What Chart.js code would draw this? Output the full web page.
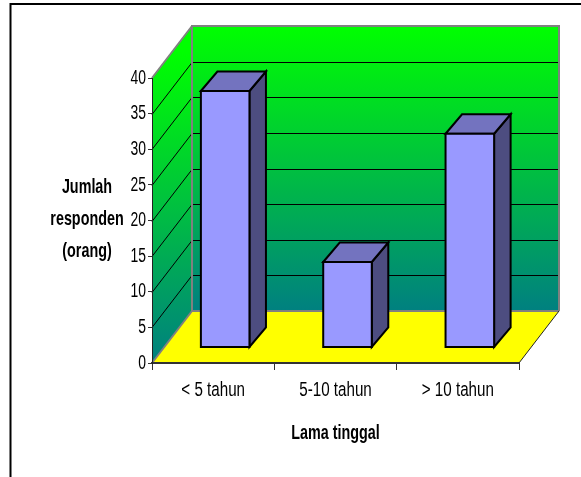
<!DOCTYPE html>
<html>
<head>
<meta charset="utf-8">
<title>Lama tinggal</title>
<script src="https://cdn.jsdelivr.net/npm/chart.js@4"></script>
<style>
    html, body { margin: 0; padding: 0; background: #fff; overflow: hidden; }
    #wrap { position: relative; width: 581px; height: 477px; }
</style>
</head>
<body>
<div id="wrap"><canvas id="stayChart" width="581" height="477"></canvas></div>
<script>
const categories = ['< 5 tahun', '5-10 tahun', '> 10 tahun'];
const respondents = [36, 12, 30];
const yTitleLines = ['Jumlah', 'responden', '(orang)'];
const xTitle = 'Lama tinggal';

const FONT = '"Liberation Sans", Arial, sans-serif';
const DEPTH_X = 40;
const DEPTH_Y = -52;
const BAR_SHIFT_X = 12;
const BAR_SHIFT_Y = -15.5;
const BAR_DEPTH_X = 16.5;
const BAR_DEPTH_Y = -19.5;

function poly(ctx, pts, fill, stroke, lw) {
    ctx.beginPath();
    pts.forEach(function (p, i) {
        if (i === 0) ctx.moveTo(p[0], p[1]);
        else ctx.lineTo(p[0], p[1]);
    });
    ctx.closePath();
    if (fill) {
        ctx.fillStyle = fill;
        ctx.fill();
    }
    if (stroke) {
        ctx.strokeStyle = stroke;
        ctx.lineWidth = lw;
        ctx.lineJoin = 'miter';
        ctx.stroke();
    }
}

function segment(ctx, x1, y1, x2, y2, color, lw) {
    ctx.beginPath();
    ctx.moveTo(x1, y1);
    ctx.lineTo(x2, y2);
    ctx.strokeStyle = color;
    ctx.lineWidth = lw;
    ctx.stroke();
}

// the reference font is a squeezed Arial, no narrow face is installed here
function narrowText(ctx, text, x, y, align, bold, squeeze) {
    ctx.save();
    ctx.translate(x, y);
    ctx.scale(squeeze, 1);
    ctx.fillStyle = '#000';
    ctx.font = (bold ? 'bold ' : '') + '20.5px ' + FONT;
    ctx.textAlign = align;
    ctx.textBaseline = 'middle';
    ctx.fillText(text, 0, 0);
    ctx.restore();
}

// walls, floor and the page frame go under the axes
const wallsPlugin = {
    id: 'walls',
    beforeDraw: function (chart) {
        const ctx = chart.ctx;
        const a = chart.chartArea;
        const y = chart.scales.y;
        const dx = DEPTH_X;
        const dy = DEPTH_Y;
        ctx.save();

        // frame, top and left only
        segment(ctx, 10.5, 4, 581, 4, '#000', 2);
        segment(ctx, 10.5, 3, 10.5, 477, '#000', 2);

        const backGrad = ctx.createLinearGradient(0, a.top + dy, 0, a.bottom + dy);
        backGrad.addColorStop(0, '#00ff00');
        backGrad.addColorStop(1, '#008080');
        const sideGrad = ctx.createLinearGradient(0, a.top + dy + 26, 0, a.bottom);
        sideGrad.addColorStop(0, '#00ff00');
        sideGrad.addColorStop(1, '#008080');

        // back wall
        poly(ctx, [[a.left + dx, a.top + dy], [a.right + dx, a.top + dy], [a.right + dx, a.bottom + dy], [a.left + dx, a.bottom + dy]], backGrad);
        // side wall
        poly(ctx, [[a.left, a.top], [a.left + dx, a.top + dy], [a.left + dx, a.bottom + dy], [a.left, a.bottom]], sideGrad);
        // floor
        poly(ctx, [[a.left, a.bottom], [a.left + dx, a.bottom + dy], [a.right + dx, a.bottom + dy], [a.right, a.bottom]], '#ffff00');

        // grid lines on both walls
        y.ticks.forEach(function (t) {
            if (t.value === y.min || t.value === y.max) return;
            const py = Math.round(y.getPixelForValue(t.value)) + 0.5;
            segment(ctx, a.left, py, a.left + dx, py + dy, '#000', 1);
            segment(ctx, a.left + dx, py + dy, a.right + dx, py + dy, '#000', 1);
        });

        // wall edges
        const gray = '#808080';
        segment(ctx, a.left, a.top, a.left + dx, a.top + dy, gray, 2);
        segment(ctx, a.left, a.bottom, a.left + dx, a.bottom + dy, gray, 2);
        segment(ctx, a.left + dx, a.bottom + dy, a.right + dx, a.bottom + dy, gray, 2);
        segment(ctx, a.left + dx, a.top + dy, a.left + dx, a.bottom + dy, gray, 2);
        segment(ctx, a.left + dx - 1, a.top + dy, a.right + dx + 1, a.top + dy, gray, 2);
        segment(ctx, a.right + dx, a.top + dy, a.right + dx, a.bottom + dy, gray, 2);
        segment(ctx, a.right, a.bottom, a.right + dx, a.bottom + dy, '#222', 1);

        ctx.restore();
    }
};

// each bar element gives the box position, the plugin adds the depth
const boxPlugin = {
    id: 'box3d',
    afterDatasetsDraw: function (chart) {
        const ctx = chart.ctx;
        const meta = chart.getDatasetMeta(0);
        const xScale = chart.scales.x;
        const yScale = chart.scales.y;
        ctx.save();
        meta.data.forEach(function (bar) {
            const half = bar.width / 2;
            const l = bar.x - half + BAR_SHIFT_X;
            const r = bar.x + half + BAR_SHIFT_X;
            const t = bar.y + BAR_SHIFT_Y;
            const b = bar.base + BAR_SHIFT_Y;
            const dx = BAR_DEPTH_X;
            const dy = BAR_DEPTH_Y;
            poly(ctx, [[r, t], [r + dx, t + dy], [r + dx, b + dy], [r, b]], '#4d4d80', '#000', 2);
            poly(ctx, [[l, t], [l + dx, t + dy], [r + dx, t + dy], [r, t]], '#7373bf', '#000', 2);
            poly(ctx, [[l, t], [r, t], [r, b], [l, b]], '#9999ff', '#000', 2);
        });

        // tick labels and titles
        yScale.ticks.forEach(function (t, i) {
            narrowText(ctx, t.label, yScale.right - 6, yScale.getPixelForTick(i), 'right', false, 0.68);
        });
        xScale.ticks.forEach(function (t, i) {
            narrowText(ctx, t.label, xScale.getPixelForTick(i), xScale.top + 27, 'center', false, 0.74);
        });
        yTitleLines.forEach(function (line, i) {
            narrowText(ctx, line, 87, 187 + i * 32, 'center', true, 0.7);
        });
        narrowText(ctx, xTitle, (xScale.left + xScale.right) / 2, xScale.top + 70, 'center', true, 0.7);
        ctx.restore();
    }
};

const canvas = document.getElementById('stayChart');
new Chart(canvas.getContext('2d'), {
    type: 'bar',
    data: {
        labels: categories,
        datasets: [{
            label: 'Jumlah responden (orang)',
            data: respondents,
            backgroundColor: 'transparent',
            borderWidth: 0,
            categoryPercentage: 1,
            barPercentage: 0.397
        }]
    },
    options: {
        responsive: false,
        animation: false,
        layout: { padding: { left: 0, top: 78, right: 62, bottom: 0 } },
        plugins: {
            legend: { display: false },
            tooltip: { enabled: false }
        },
        scales: {
            x: {
                afterFit: function (scale) { scale.height = 114; },
                grid: { drawOnChartArea: false, tickLength: 7, color: '#333', lineWidth: 1 },
                border: { color: '#333', width: 2 },
                ticks: { display: false, maxRotation: 0 }
            },
            y: {
                min: 0,
                max: 40,
                afterFit: function (scale) { scale.width = 152; },
                grid: { drawOnChartArea: false, tickLength: 4, color: '#333', lineWidth: 1 },
                border: { color: '#222', width: 1 },
                ticks: { display: false, stepSize: 5 }
            }
        }
    },
    plugins: [wallsPlugin, boxPlugin]
});
</script>
</body>
</html>
